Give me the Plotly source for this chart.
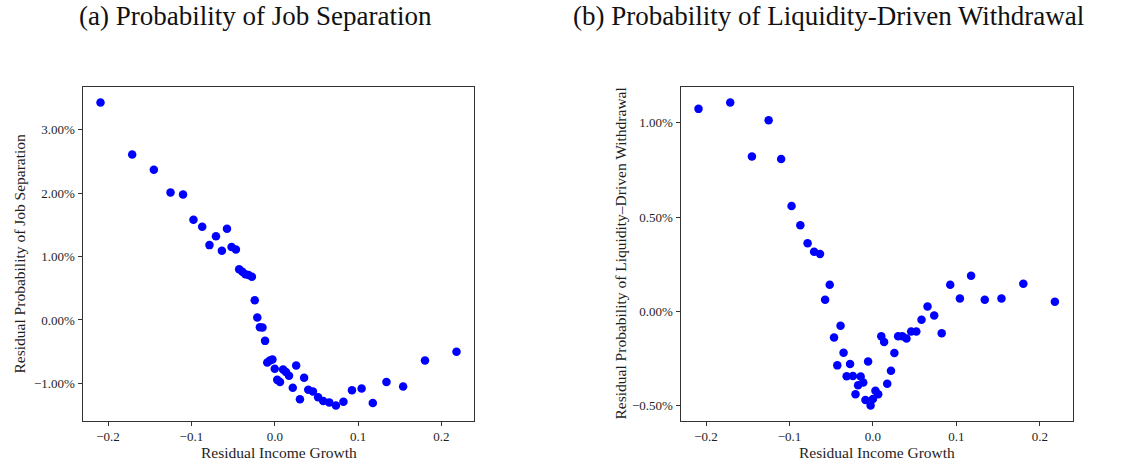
import plotly.graph_objects as go

# Shared residual income growth bins (x)
income_growth = [-0.209, -0.171, -0.145, -0.125, -0.110, -0.0975, -0.087, -0.0783, -0.0705, -0.0634,
                 -0.0573, -0.0518, -0.0466, -0.0427, -0.0388, -0.0352, -0.0315, -0.0274, -0.024, -0.0209,
                 -0.0178, -0.0147, -0.0116, -0.009, -0.0058, -0.0028, 0.0, 0.003, 0.0063, 0.010,
                 0.0134, 0.0171, 0.0216, 0.0257, 0.0302, 0.0352, 0.0402, 0.0458, 0.052, 0.0582,
                 0.0654, 0.0734, 0.0824, 0.0926, 0.1042, 0.1176, 0.134, 0.154, 0.1802, 0.218]

# Panel (a): residual probability of job separation (%)
job_sep = [3.43, 2.61, 2.37, 2.01, 1.98, 1.58, 1.47, 1.18, 1.32, 1.09,
           1.44, 1.15, 1.11, 0.80, 0.76, 0.72, 0.71, 0.68, 0.31, 0.04,
           -0.115, -0.12, -0.33, -0.67, -0.64, -0.625, -0.77, -0.945, -0.98, -0.78,
           -0.82, -0.88, -1.07, -0.72, -1.25, -0.91, -1.10, -1.13, -1.22, -1.28,
           -1.30, -1.35, -1.29, -1.11, -1.08, -1.31, -0.98, -1.05, -0.64, -0.50]

# Panel (b): residual probability of liquidity-driven withdrawal (%)
withdrawal = [1.074, 1.108, 0.822, 1.014, 0.808, 0.559, 0.457, 0.362, 0.316, 0.305,
              0.062, 0.141, -0.138, -0.286, -0.076, -0.219, -0.344, -0.279, -0.342, -0.439,
              -0.391, -0.345, -0.377, -0.469, -0.265, -0.499, -0.464, -0.42, -0.439, -0.132,
              -0.162, -0.383, -0.315, -0.220, -0.132, -0.132, -0.144, -0.107, -0.107, -0.044,
              0.026, -0.021, -0.116, 0.141, 0.069, 0.189, 0.062, 0.069, 0.147, 0.051]

titles = ["(a) Probability of Job Separation", "(b) Probability of Liquidity-Driven Withdrawal"]
ylabels = ["Residual Probability of Job Separation",
           "Residual Probability of Liquidity\u2013Driven Withdrawal"]
xlabel = "Residual Income Growth"

W, H = 1136, 466
FONT = "Liberation Serif"
AX = "#333333"
TXT = "#1e1e1e"

fig = go.Figure()
fig.add_trace(go.Scatter(x=income_growth, y=job_sep, mode="markers",
                         marker=dict(color="#0000ff", size=8.5, line=dict(width=0)),
                         xaxis="x", yaxis="y", showlegend=False))
fig.add_trace(go.Scatter(x=income_growth, y=withdrawal, mode="markers",
                         marker=dict(color="#0000ff", size=8.5, line=dict(width=0)),
                         xaxis="x2", yaxis="y2", showlegend=False))

ydom = [1 - 420.7 / H, 1 - 87.3 / H]
common = dict(showline=True, mirror=True, linecolor=AX, linewidth=1.3, ticks="outside",
              ticklen=4, tickwidth=1, tickcolor=AX, showgrid=False, zeroline=False,
              tickfont=dict(family=FONT, size=13, color=TXT))

def xr(vals):
    lo, hi = min(vals), max(vals)
    pad = (hi - lo) * 0.05
    return [lo - pad, hi + pad]

fig.update_layout(
    width=W, height=H, margin=dict(l=0, r=0, t=0, b=0),
    paper_bgcolor="white", plot_bgcolor="white",
    xaxis=dict(domain=[82.7 / W, 474.3 / W], range=xr(income_growth), tickvals=[-0.2, -0.1, 0.0, 0.1, 0.2],
               tickformat=".1f", anchor="y", **common),
    yaxis=dict(domain=ydom, range=xr(job_sep), dtick=1, tick0=0, tickformat=".2f", ticksuffix="%",
               anchor="x", **common),
    xaxis2=dict(domain=[680.7 / W, 1072.7 / W], range=xr(income_growth), tickvals=[-0.2, -0.1, 0.0, 0.1, 0.2],
                tickformat=".1f", anchor="y2", **common),
    yaxis2=dict(domain=ydom, range=xr(withdrawal), dtick=0.5, tick0=0, tickformat=".2f", ticksuffix="%",
                anchor="x2", **common),
)

ann = []
# titles
ann.append(dict(text=titles[0], x=255 / W, y=1 - 16 / H, xref="paper", yref="paper",
                xanchor="center", yanchor="middle", showarrow=False,
                font=dict(family=FONT, size=27, color="#111111")))
ann.append(dict(text=titles[1], x=828 / W, y=1 - 16 / H, xref="paper", yref="paper",
                xanchor="center", yanchor="middle", showarrow=False,
                font=dict(family=FONT, size=27, color="#111111")))
# x labels
for cx in [278.5, 876.7]:
    ann.append(dict(text=xlabel, x=cx / W, y=1 - 452 / H, xref="paper", yref="paper",
                    xanchor="center", yanchor="middle", showarrow=False,
                    font=dict(family=FONT, size=15.5, color=TXT)))
# y labels
for cx, lab in [(18.5, ylabels[0]), (619.5, ylabels[1])]:
    ann.append(dict(text=lab, x=cx / W, y=1 - 254 / H, xref="paper", yref="paper",
                    xanchor="center", yanchor="middle", textangle=-90, showarrow=False,
                    font=dict(family=FONT, size=15.5, color=TXT)))
fig.update_layout(annotations=ann)

fig.write_html("out.html")
